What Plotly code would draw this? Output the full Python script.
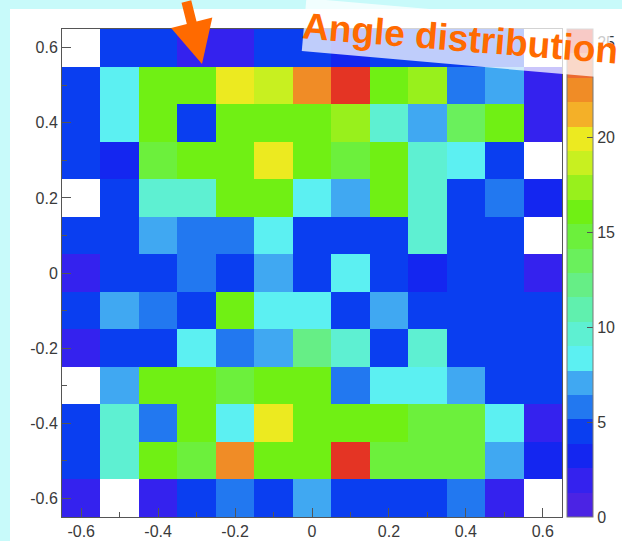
import plotly.graph_objects as go

# Bin centres of the 13 x 13 angular histogram
x_centers = [-0.6, -0.5, -0.4, -0.3, -0.2, -0.1, 0.0, 0.1, 0.2, 0.3, 0.4, 0.5, 0.6]
y_centers = [0.6, 0.5, 0.4, 0.3, 0.2, 0.1, 0.0, -0.1, -0.2, -0.3, -0.4, -0.5, -0.6]

# Bin contents, one list per row (top row first); 0 = empty bin
row_p06 = [0, 4.5, 4.5, 2.0, 2.0, 4.5, 4.5, 3.2, 4.5, 4.5, 4.5, 4.5, 0]
row_p05 = [4.5, 8.4, 16, 16, 19.5, 18.6, 22.5, 24.5, 16, 16.8, 5.8, 7.0, 2.0]
row_p04 = [4.5, 8.4, 16, 4.5, 16, 16, 16, 17.5, 9.2, 7.0, 13.5, 16, 2.0]
row_p03 = [4.5, 3.2, 14.8, 16, 16, 19.5, 16, 14.8, 16, 9.6, 8.4, 4.5, 0]
row_p02 = [0, 4.5, 9.6, 9.6, 16, 16, 8.4, 7.0, 16, 10.0, 4.5, 5.8, 3.2]
row_p01 = [4.5, 4.5, 7.0, 5.8, 5.8, 8.4, 4.5, 4.5, 4.5, 9.6, 4.5, 4.5, 0]
row_000 = [2.0, 4.5, 4.5, 5.8, 4.5, 7.0, 4.5, 8.4, 4.5, 3.2, 4.5, 4.5, 2.0]
row_m01 = [4.5, 7.0, 5.8, 4.5, 16, 8.4, 8.4, 4.5, 7.0, 4.5, 4.5, 4.5, 4.5]
row_m02 = [2.0, 4.5, 4.5, 8.4, 5.8, 7.0, 12.2, 9.6, 4.5, 9.6, 4.5, 4.5, 4.5]
row_m03 = [0, 7.0, 16, 16, 14.8, 16, 16, 5.8, 8.4, 8.4, 7.0, 4.5, 4.5]
row_m04 = [4.5, 9.6, 5.8, 16, 8.4, 19.5, 16, 16, 16, 14.8, 14.8, 8.4, 2.0]
row_m05 = [4.5, 9.6, 16, 14.8, 22.5, 16, 16, 24.5, 14.8, 14.8, 14.8, 7.0, 3.2]
row_m06 = [2.0, 0, 2.0, 4.5, 5.8, 4.5, 7.0, 4.5, 4.5, 4.5, 5.8, 2.0, 0]

axis_tick_vals = [-0.6, -0.4, -0.2, 0.0, 0.2, 0.4, 0.6]
axis_tick_text = ["-0.6", "-0.4", "-0.2", "0", "0.2", "0.4", "0.6"]
cbar_tick_vals = [0, 5, 10, 15, 20, 25]

rows = [row_p06, row_p05, row_p04, row_p03, row_p02, row_p01, row_000,
        row_m01, row_m02, row_m03, row_m04, row_m05, row_m06]
z = [[v if v > 0 else None for v in r] for r in rows]

# Rainbow palette split into 20 contour levels (violet -> red)
palette = ["#4b23e4", "#3422ee", "#1426f0", "#0a3ef0", "#2278f0",
           "#40a8f2", "#5cf0f2", "#5ef0d2", "#60f0ae", "#66ee86",
           "#6af05c", "#6cf03c", "#70f014", "#98f01c", "#c8f020",
           "#ecea20", "#f4b028", "#f08c26", "#ec6a30", "#e43424"]
n = len(palette)
colorscale = []
for k, c in enumerate(palette):
    colorscale.append([k / n, c])
    colorscale.append([(k + 1) / n, c])

zmax = 1.05 * max(max(r) for r in rows)

W, H = 622, 541
L, R, T, B = 62, 60, 29, 24
PW, PH = W - L - R, H - T - B


def px_x(px):
    return (px - L) / PW


def px_y(py):
    return (H - B - py) / PH


fig = go.Figure()
fig.add_trace(go.Heatmap(
    x=x_centers, y=y_centers, z=z,
    zmin=0, zmax=zmax, colorscale=colorscale,
    hoverongaps=False,
    colorbar=dict(
        thickness=26, x=px_x(567), xanchor="left", xpad=0,
        y=0, yanchor="bottom", ypad=0, len=PH, lenmode="pixels",
        outlinewidth=1, outlinecolor="#777777",
        tickvals=cbar_tick_vals, ticks="inside", ticklen=6,
        tickcolor="#555555",
        tickfont=dict(family="Liberation Sans", size=16, color="#3a3a3a"),
    ),
))

axis_common = dict(
    tickvals=axis_tick_vals, ticktext=axis_tick_text,
    ticks="inside", ticklen=9, tickwidth=1, tickcolor="#555555",
    minor=dict(ticks="inside", ticklen=5, dtick=0.1, tick0=0,
               tickcolor="#555555"),
    showline=True, linecolor="#555555", linewidth=1, mirror=True,
    showgrid=False, zeroline=False,
    tickfont=dict(family="Liberation Sans", size=16, color="#3a3a3a"),
)

fig.update_xaxes(range=[-0.65, 0.65], **axis_common)
fig.update_yaxes(range=[-0.65, 0.65], **axis_common)

fig.update_layout(
    width=W, height=H,
    margin=dict(l=L, r=R, t=T, b=B, pad=0, autoexpand=False),
    paper_bgcolor="#c8fafa", plot_bgcolor="#ffffff",
    showlegend=False,
    shapes=[dict(type="rect", xref="paper", yref="paper", layer="below",
                 x0=px_x(10), x1=px_x(W + 5), y0=px_y(9), y1=px_y(H + 5),
                 fillcolor="#ffffff", line=dict(width=0))],
    annotations=[
        # translucent band behind the title
        dict(text=" ", xref="paper", yref="paper",
             x=px_x(456), y=px_y(38), xanchor="center", yanchor="middle",
             showarrow=False, width=305, height=52, textangle=5,
             bgcolor="rgba(255,255,255,0.74)", borderpad=0),
        dict(text="<b>Angle distribution</b>", xref="paper", yref="paper",
             x=px_x(460), y=px_y(38), xanchor="center", yanchor="middle",
             showarrow=False, textangle=4.6,
             font=dict(family="Liberation Sans", size=37, color="#ff6a00")),
        # pointer arrow
        dict(text="", xref="paper", yref="paper",
             x=px_x(202), y=px_y(64), showarrow=True,
             ax=-16, ay=-80, arrowhead=2, arrowsize=0.85, arrowwidth=10,
             arrowcolor="#ff6a00", standoff=0),
    ],
)

fig.write_html("out.html")
